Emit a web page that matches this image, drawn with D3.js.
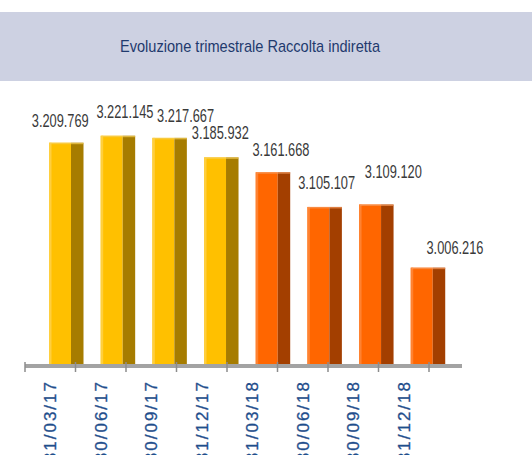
<!DOCTYPE html>
<html>

<head>
    <meta charset="utf-8">
    <title>Raccolta indiretta</title>
    <script src="https://d3js.org/d3.v7.min.js"></script>
    <style>
        body { margin: 0; background: #fff; }
    </style>
</head>

<body>
    <svg width="532" height="455"></svg>

    <script>
        // dati trimestrali
        const categories = ["31/03/17", "30/06/17", "30/09/17", "31/12/17", "31/03/18", "30/06/18", "30/09/18", "31/12/18"];
        const values = [3209769, 3221145, 3217667, 3185932, 3161668, 3105107, 3109120, 3006216];
        const years = ["2017", "2017", "2017", "2017", "2018", "2018", "2018", "2018"];
        const valueLabels = ["3.209.769", "3.221.145", "3.217.667", "3.185.932", "3.161.668", "3.105.107", "3.109.120", "3.006.216"];

        // spostamenti etichette (come nel grafico originale)
        const labelDx = [-6, 7, 16, -1, 8, 2, 17, 27];
        const labelDy = [-16, -18, -16, -18, -16, -18, -26, -14];

        let svg = d3.select("svg"),
            width = +svg.attr("width");

        const colors = {
            "2017": { front: "#ffc000", side: "#a67c00", edge: "#ffd24d", top: "#f5cf5a" },
            "2018": { front: "#ff6600", side: "#a33f00", edge: "#ff8a3d", top: "#f59a5c" }
        };

        // fascia del titolo
        svg.append("rect")
            .attr("x", 0).attr("y", 12)
            .attr("width", width).attr("height", 69)
            .attr("fill", "#cdd1e2");

        svg.append("text")
            .attr("x", 250).attr("y", 52)
            .attr("text-anchor", "middle")
            .attr("textLength", 260)
            .attr("lengthAdjust", "spacingAndGlyphs")
            .style("font-family", "'Liberation Sans', Arial, sans-serif")
            .style("font-size", "17px")
            .attr("fill", "#1f3a6e")
            .text("Evoluzione trimestrale Raccolta indiretta");

        let y = d3.scaleLinear()
            .domain([2846000, 3250000])
            .range([366, 118]);

        // scala delle barre (prospettiva 3D) e scala dell'asse
        let xBar = d3.scaleBand().domain(categories).range([49, 462.4]);
        let xAxis = d3.scaleBand().domain(categories).range([25, 429]);

        const frontW = 22, sideW = 12.5;

        let bars = svg.append("g").selectAll("g")
            .data(values)
            .join("g");

        bars.append("rect")
            .attr("x", (d, i) => xBar(categories[i]))
            .attr("y", d => y(d))
            .attr("width", frontW)
            .attr("height", d => y.range()[0] - y(d))
            .attr("fill", (d, i) => colors[years[i]].front);

        bars.append("rect")
            .attr("x", (d, i) => xBar(categories[i]))
            .attr("y", d => y(d))
            .attr("width", 2.5)
            .attr("height", d => y.range()[0] - y(d))
            .attr("fill", (d, i) => colors[years[i]].edge)
            .attr("opacity", 0.8);

        bars.append("rect")
            .attr("x", (d, i) => xBar(categories[i]) + frontW)
            .attr("y", d => y(d))
            .attr("width", sideW)
            .attr("height", d => y.range()[0] - y(d))
            .attr("fill", (d, i) => colors[years[i]].side);

        bars.append("rect")
            .attr("x", (d, i) => xBar(categories[i]) + 1)
            .attr("y", d => y(d))
            .attr("width", frontW + sideW - 1)
            .attr("height", 1.5)
            .attr("fill", (d, i) => colors[years[i]].top)
            .attr("opacity", 0.7);

        // etichette valori
        svg.append("g").selectAll("text")
            .data(values)
            .join("text")
            .attr("x", (d, i) => xBar(categories[i]) + (frontW + sideW) / 2 + labelDx[i])
            .attr("y", (d, i) => y(d) + labelDy[i])
            .attr("text-anchor", "middle")
            .attr("textLength", 57)
            .attr("lengthAdjust", "spacingAndGlyphs")
            .style("font-family", "'Liberation Sans', Arial, sans-serif")
            .style("font-size", "17.5px")
            .attr("fill", "#3a3a3a")
            .text((d, i) => valueLabels[i]);

        // asse orizzontale
        let axisG = svg.append("g");
        axisG.append("line")
            .attr("x1", 25).attr("x2", 462)
            .attr("y1", 366).attr("y2", 366)
            .attr("stroke", "#a3a3a3")
            .attr("stroke-width", 4);

        const bounds = categories.map(c => xAxis(c)).concat([xAxis.range()[1]]);
        axisG.selectAll("line.tick")
            .data(bounds)
            .join("line")
            .attr("class", "tick")
            .attr("x1", d => d).attr("x2", d => d)
            .attr("y1", 362).attr("y2", 372)
            .attr("stroke", "#8c8c8c")
            .attr("stroke-width", 1.5);

        axisG.selectAll("text")
            .data(categories)
            .join("text")
            .attr("transform", d => `translate(${xAxis(d) + xAxis.bandwidth() / 2 + 6},380) rotate(-90)`)
            .attr("text-anchor", "end")
            .style("font-family", "'Liberation Sans', Arial, sans-serif")
            .style("font-size", "17px")
            .style("letter-spacing", "2px")
            .attr("fill", "#1f4e8c")
            .attr("stroke", "#1f4e8c")
            .attr("stroke-width", 0.3)
            .text(d => d);
    </script>

</body>

</html>
